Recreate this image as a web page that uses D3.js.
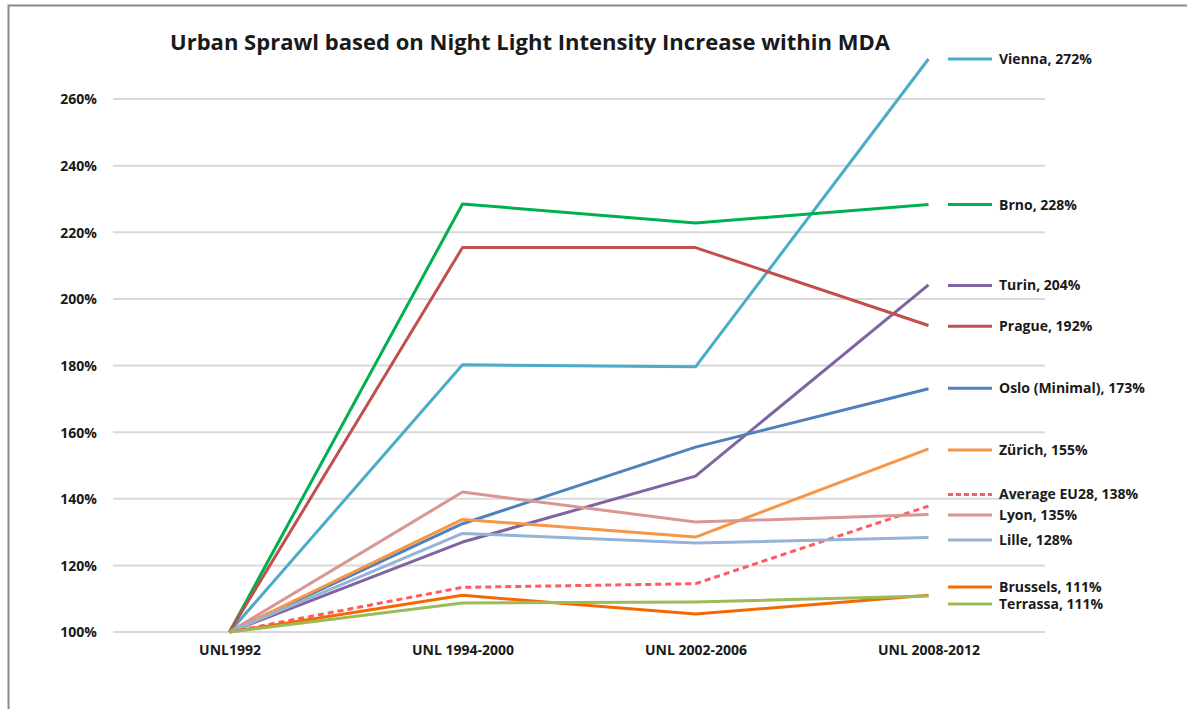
<!DOCTYPE html>
<html>
<head>
<meta charset="utf-8">
<script src="https://cdn.jsdelivr.net/npm/d3@7"></script>
<style>
  body { margin: 0; background: #fff; }
  text { font-family: "Open Sans", "DejaVu Sans", sans-serif; font-weight: bold; fill: #1a1a1a; }
</style>
</head>
<body>
<div id="chart"></div>
<script>
// data (percent of 1992 night light)
var periods = ["UNL1992", "UNL 1994-2000", "UNL 2002-2006", "UNL 2008-2012"];
var names = ["Vienna", "Brno", "Turin", "Prague", "Oslo (Minimal)", "Zürich",
  "Average EU28", "Lyon", "Lille", "Brussels", "Terrassa"];
var vienna   = [100, 180.2, 179.6, 272];
var brno     = [100, 228.5, 222.8, 228.3];
var turin    = [100, 127, 146.8, 204.2];
var prague   = [100, 215.4, 215.4, 192];
var oslo     = [100, 132.5, 155.5, 173];
var zurich   = [100, 133.8, 128.5, 155];
var avgEU    = [100, 113.4, 114.5, 137.8];
var lyon     = [100, 142, 133, 135.3];
var lille    = [100, 129.6, 126.7, 128.4];
var brussels = [100, 111, 105.4, 111];
var terrassa = [100, 108.7, 109, 110.8];
var endLabels = ["272%", "228%", "204%", "192%", "173%", "155%", "138%", "135%", "128%", "111%", "111%"];
// where each label sits (in chart units) next to the line ends
var labelAt = [272, 228.3, 204, 191.8, 173.2, 154.6, 141.3, 135.1, 127.6, 113.5, 108.4];
var colors = ["#4bacc6", "#00b050", "#8064a2", "#c0504d", "#4f81bd", "#f79646",
  "#ff5a5f", "#d99694", "#95b3d7", "#f56a00", "#9bbb59"];
var yTicks = [100, 120, 140, 160, 180, 200, 220, 240, 260];

var series = [vienna, brno, turin, prague, oslo, zurich, avgEU, lyon, lille, brussels, terrassa];

var width = 1187, height = 709;
var left = 113, right = 1045; // plot area
var svg = d3.select("#chart").append("svg")
    .attr("width", width)
    .attr("height", height);

// outer frame
svg.append("rect")
    .attr("x", 8.5).attr("y", 5.5)
    .attr("width", width + 20).attr("height", height + 20)
    .attr("fill", "#fff")
    .attr("stroke", "#8a8a8a")
    .attr("stroke-width", 2);

var x = d3.scalePoint()
    .domain(periods)
    .range([left, right])
    .padding(0.5);

var y = d3.scaleLinear()
    .domain([100, 260])
    .range([632, 99]);

// gridlines
svg.append("g")
    .selectAll("line")
    .data(yTicks)
    .join("line")
    .attr("x1", left).attr("x2", right)
    .attr("y1", d => y(d)).attr("y2", d => y(d))
    .attr("stroke", "#d9d9d9")
    .attr("stroke-width", 2);

// y axis labels
var yAxis = d3.axisLeft(y)
    .tickValues(yTicks)
    .tickSize(0)
    .tickPadding(0)
    .tickFormat(d => d + "%");
svg.append("g")
    .attr("transform", "translate(97,0)")
    .call(yAxis)
    .call(g => g.select(".domain").remove())
    .selectAll("text")
    .attr("font-family", null)
    .style("font-size", "14px")
    .attr("dy", "0.35em");

// x axis labels
var xAxis = d3.axisBottom(x).tickSize(0).tickPadding(0);
svg.append("g")
    .attr("transform", "translate(0,650)")
    .call(xAxis)
    .call(g => g.select(".domain").remove())
    .selectAll("text")
    .attr("font-family", null)
    .style("font-size", "14px")
    .attr("dy", "0.35em");

// lines
var line = d3.line()
    .x((d, i) => x(periods[i]))
    .y(d => y(d));

svg.append("g")
    .selectAll("path")
    .data(series)
    .join("path")
    .attr("d", line)
    .attr("fill", "none")
    .attr("stroke", (d, i) => colors[i])
    .attr("stroke-width", 3)
    .attr("stroke-linejoin", "round")
    .attr("stroke-dasharray", (d, i) => names[i] == "Average EU28" ? "6,4" : null);

// legend beside line ends
var leg = svg.append("g")
    .selectAll("g")
    .data(names)
    .join("g")
    .attr("transform", (d, i) => "translate(0," + y(labelAt[i]) + ")");

leg.append("line")
    .attr("x1", 948).attr("x2", 992)
    .attr("stroke", (d, i) => colors[i])
    .attr("stroke-width", 3)
    .attr("stroke-dasharray", d => d == "Average EU28" ? "5,3" : null);

leg.append("text")
    .attr("x", 999)
    .attr("dy", "0.35em")
    .style("font-size", "14px")
    .text((d, i) => d + ", " + endLabels[i]);

// title
svg.append("text")
    .attr("x", 530)
    .attr("y", 50)
    .attr("text-anchor", "middle")
    .style("font-size", "22px")
    .attr("textLength", 720)
    .attr("lengthAdjust", "spacingAndGlyphs")
    .text("Urban Sprawl based on Night Light Intensity Increase within MDA");
</script>
</body>
</html>
